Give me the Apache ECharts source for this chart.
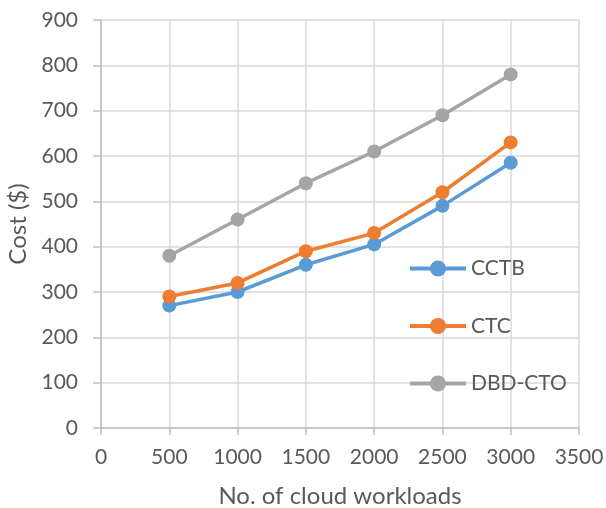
<!DOCTYPE html>
<html><head><meta charset="utf-8">
<script src="https://cdn.jsdelivr.net/npm/echarts@6/dist/echarts.min.js"></script>
<style>html,body{margin:0;padding:0;background:#fff}#c{width:606px;height:508px}</style>
</head><body><div id="c"></div>
<script>
const workloads = [500, 1000, 1500, 2000, 2500, 3000];
const cctb = [270, 300, 360, 405, 490, 585];
const ctc = [290, 320, 390, 430, 520, 630];
const dbdcto = [380, 460, 540, 610, 690, 780];
const seriesNames = ['CCTB', 'CTC', 'DBD-CTO'];
const colors = ['#5B9BD5', '#ED7D31', '#A5A5A5'];
const font = 'Lato, "Liberation Sans", sans-serif';
const pair = arr => workloads.map((w, i) => [w, arr[i]]);
const chart = echarts.init(document.getElementById('c'));
chart.setOption({
  animation: false,
  color: colors,
  textStyle: {fontFamily: font},
  grid: {left: 101, right: 27, top: 20, bottom: 80, containLabel: false, outerBoundsMode: 'none'},
  legend: {
    orient: 'vertical', left: 403, top: 253, itemGap: 36.5,
    itemWidth: 56, itemHeight: 20,
    lineStyle: {width: 4},
    textStyle: {fontSize: 21, color: '#595959', fontFamily: font},
    data: seriesNames
  },
  xAxis: {
    type: 'value', min: 0, max: 3500, interval: 500,
    name: 'No. of cloud workloads', nameLocation: 'middle', nameGap: 56,
    nameTextStyle: {fontSize: 24, color: '#595959', fontFamily: font},
    axisLine: {lineStyle: {color: '#BFBFBF', width: 1.5}},
    axisTick: {show: true, length: 7, lineStyle: {color: '#BFBFBF', width: 1.5}},
    axisLabel: {fontSize: 21, color: '#595959', margin: 19, formatter: v => String(v)},
    splitLine: {show: true, lineStyle: {color: '#D9D9D9', width: 1.5}}
  },
  yAxis: {
    type: 'value', min: 0, max: 900, interval: 100,
    name: 'Cost ($)', nameLocation: 'middle', nameGap: 65, nameRotate: 90,
    nameTextStyle: {fontSize: 24, color: '#595959', fontFamily: font},
    axisLine: {show: true, lineStyle: {color: '#BFBFBF', width: 1.5}},
    axisTick: {show: true, length: 8, lineStyle: {color: '#BFBFBF', width: 1.5}},
    axisLabel: {fontSize: 21, color: '#595959', margin: 23, formatter: v => String(v)},
    splitLine: {show: true, lineStyle: {color: '#D9D9D9', width: 1.5}}
  },
  series: [
    {name: seriesNames[0], type: 'line', data: pair(cctb), symbol: 'circle', symbolSize: 14, lineStyle: {width: 3.5}},
    {name: seriesNames[1], type: 'line', data: pair(ctc), symbol: 'circle', symbolSize: 14, lineStyle: {width: 3.5}},
    {name: seriesNames[2], type: 'line', data: pair(dbdcto), symbol: 'circle', symbolSize: 14, lineStyle: {width: 3.5}}
  ]
});
</script></body></html>
